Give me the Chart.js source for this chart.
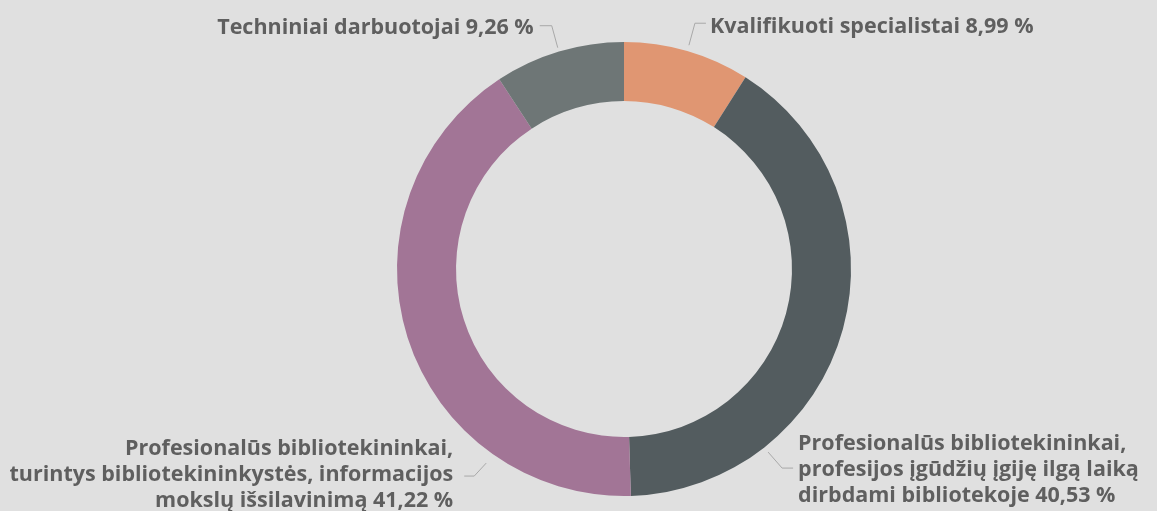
<!DOCTYPE html>
<html lang="lt">
<head>
<meta charset="utf-8">
<title>Darbuotojai</title>
<script src="https://cdn.jsdelivr.net/npm/chart.js@4/dist/chart.umd.min.js"></script>
<style>
  html, body { margin: 0; padding: 0; background: #e0e0e0; }
  #wrap { width: 1157px; height: 511px; }
</style>
</head>
<body>
<div id="wrap"><canvas id="donut" width="1157" height="511"></canvas></div>
<script>
// slices, clockwise from 12 o'clock
const categories = [
    'Kvalifikuoti specialistai',
    'Profesionalūs bibliotekininkai, profesijos įgūdžių įgiję ilgą laiką dirbdami bibliotekoje',
    'Profesionalūs bibliotekininkai, turintys bibliotekininkystės, informacijos mokslų išsilavinimą',
    'Techniniai darbuotojai'
];
const shares = [8.99, 40.53, 41.22, 9.26];
const sliceColors = ['#e09672', '#535c5f', '#a27596', '#6e7676'];

// label text, broken into lines as in the original; the percent is appended to the last line
const labelLines = [
    ['Kvalifikuoti specialistai'],
    ['Profesionalūs bibliotekininkai,', 'profesijos įgūdžių įgiję ilgą laiką', 'dirbdami bibliotekoje'],
    ['Profesionalūs bibliotekininkai,', 'turintys bibliotekininkystės, informacijos', 'mokslų išsilavinimą'],
    ['Techniniai darbuotojai']
];

const fmtPct = v => v.toFixed(2).replace('.', ',') + ' %';

// callout labels with an elbow leader line
const calloutPlugin = {
    id: 'callouts',
    afterDatasetsDraw(chart, args, opts) {
        const ctx = chart.ctx;
        const meta = chart.getDatasetMeta(0);
        meta.data.forEach((arc, i) => {
            const p = opts.placement[i];
            const { x, y, startAngle, endAngle, outerRadius } =
                arc.getProps(['x', 'y', 'startAngle', 'endAngle', 'outerRadius'], true);
            const a = startAngle + (endAngle - startAngle) * p.at;
            const r = outerRadius + p.gap;
            const sx = x + Math.cos(a) * r;
            const sy = y + Math.sin(a) * r;
            const ex = sx + p.dx;
            const ey = sy + p.dy;
            const dir = p.align === 'left' ? 1 : -1;
            const tx = ex + dir * p.tail;

            ctx.save();
            ctx.strokeStyle = opts.lineColor;
            ctx.lineWidth = 1;
            ctx.beginPath();
            ctx.moveTo(sx, sy);
            ctx.lineTo(ex, ey);
            ctx.lineTo(tx, ey);
            ctx.stroke();

            const lines = labelLines[i].slice();
            lines[lines.length - 1] += ' ' + fmtPct(shares[i]);
            ctx.font = opts.font;
            ctx.fillStyle = opts.color;
            ctx.textAlign = p.align;
            ctx.textBaseline = 'alphabetic';
            const textX = tx + dir * p.textGap;
            const base = ey + p.baseShift - p.anchorLine * opts.lineHeight;
            lines.forEach((ln, k) => {
                ctx.fillText(ln, textX, base + k * opts.lineHeight);
            });
            ctx.restore();
        });
    }
};

const ctx = document.getElementById('donut').getContext('2d');
new Chart(ctx, {
    type: 'doughnut',
    data: {
        labels: categories,
        datasets: [{
            data: shares,
            backgroundColor: sliceColors,
            borderWidth: 0,
            hoverOffset: 0
        }]
    },
    options: {
        responsive: false,
        animation: false,
        cutout: '74%',
        layout: {
            padding: { left: 397, right: 306, top: 42, bottom: 15 }
        },
        plugins: {
            legend: { display: false },
            tooltip: { enabled: false },
            callouts: {
                font: 'bold 21.5px "Open Sans"',
                color: '#5f5f5f',
                lineColor: '#a8a8a8',
                lineHeight: 26,
                placement: [
                    { at: 0.5,  gap: 6,  dx: 6,   dy: -22, tail: 11, textGap: 4, align: 'left',  anchorLine: 0, baseShift: 10 },
                    { at: 0.75, gap: 6,  dx: 14,  dy: 16,  tail: 11, textGap: 5, align: 'left',  anchorLine: 1, baseShift: 8 },
                    { at: 0.25, gap: 11, dx: -12, dy: 13,  tail: 10, textGap: 11, align: 'right', anchorLine: 1, baseShift: 5 },
                    { at: 0.5,  gap: 4,  dx: -6,  dy: -22, tail: 12, textGap: 6, align: 'right', anchorLine: 0, baseShift: 8 }
                ]
            }
        }
    },
    plugins: [calloutPlugin]
});
</script>
</body>
</html>
